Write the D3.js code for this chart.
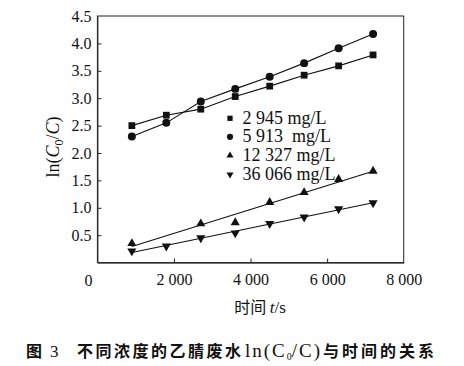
<!DOCTYPE html>
<html><head><meta charset="utf-8">
<script src="https://cdn.jsdelivr.net/npm/d3@7/dist/d3.min.js"></script>
<style>body{margin:0;background:#fff}svg{display:block}</style>
</head><body>
<svg id="c" width="464" height="366"></svg>
<script>
const times = [900, 1800, 2700, 3600, 4500, 5400, 6300, 7200];
const s2945 = [2.50, 2.69, 2.80, 3.03, 3.22, 3.42, 3.59, 3.79];
const s5913 = [2.30, 2.55, 2.94, 3.17, 3.39, 3.64, 3.91, 4.17];
const times12327 = [900, 2700, 3600, 4500, 5400, 6300, 7200];
const s12327 = [0.35, 0.71, 0.73, 1.10, 1.28, 1.52, 1.67];
const s36066 = [0.21, 0.30, 0.45, 0.54, 0.71, 0.83, 0.98, 1.09];
const legendLabels = ["2 945 mg/L", "5 913  mg/L", "12 327 mg/L", "36 066 mg/L"];
const xTicks = [2000, 4000, 6000, 8000];
const xTickLabels = ["2 000", "4 000", "6 000", "8 000"];
const yTicks = [0.5, 1.0, 1.5, 2.0, 2.5, 3.0, 3.5, 4.0, 4.5];

const SF = '"Liberation Serif"';
const CJ = '"Noto Sans CJK SC"';
const svg = d3.select("#c");
const L = 97.4, R = 403.7, T = 16, B = 262.6;
const x = d3.scaleLinear().domain([0, 8000]).range([L, R]);
const y = d3.scaleLinear().domain([0, 4.5]).range([B, T]);

svg.append("rect").attr("x", L).attr("y", T).attr("width", R - L).attr("height", B - T)
  .attr("fill", "none").attr("stroke", "#222").attr("stroke-width", 1);

const xAxis = d3.axisBottom(x).tickValues(xTicks).tickSizeInner(-4).tickSizeOuter(0)
  .tickPadding(10).tickFormat((d, i) => xTickLabels[i]);
const gx = svg.append("g").attr("transform", `translate(0,${B})`).call(xAxis).attr("font-family", SF);
gx.select(".domain").attr("stroke", "#222");
gx.selectAll(".tick line").attr("stroke", "#222");
gx.selectAll(".tick text").style("font-family", SF).attr("font-size", 16).attr("fill", "#111").attr("dy", "0.75em")
  .style("white-space", "pre");
gx.selectAll(".tick").filter(d => d === 8000).select("line").remove();

const yAxis = d3.axisLeft(y).tickValues(yTicks).tickSizeInner(-4).tickSizeOuter(0)
  .tickPadding(6).tickFormat(d3.format(".1f"));
const gy = svg.append("g").attr("transform", `translate(${L},0)`).call(yAxis).attr("font-family", SF);
gy.select(".domain").attr("stroke", "#222");
gy.selectAll(".tick line").attr("stroke", "#222");
gy.selectAll(".tick text").style("font-family", SF).attr("font-size", 16).attr("fill", "#111");
gy.selectAll(".tick").filter(d => d === 4.5).select("line").remove();

svg.append("text").style("font-family", SF).attr("x", x(0) - 9).attr("y", 286).attr("text-anchor", "middle")
  .attr("font-size", 16).attr("fill", "#111").text("0");

const yl = svg.append("text").style("font-family", SF).attr("transform", "translate(59,147) rotate(-90)")
  .attr("text-anchor", "middle").attr("font-size", 18).attr("fill", "#111");
yl.append("tspan").text("ln(");
yl.append("tspan").attr("font-style", "italic").text("C");
yl.append("tspan").attr("font-size", 12).attr("dy", 4).text("0");
yl.append("tspan").attr("dy", -4).text("/");
yl.append("tspan").attr("font-style", "italic").text("C");
yl.append("tspan").text(")");

const xl = svg.append("text").attr("x", 260).attr("y", 313).attr("text-anchor", "middle")
  .attr("font-size", 16).attr("fill", "#111");
xl.append("tspan").style("font-family", CJ).text("时间 ");
xl.append("tspan").style("font-family", SF).attr("font-style", "italic").attr("font-size", 17).text("t");
xl.append("tspan").style("font-family", SF).attr("font-size", 17).text("/s");

const cap = svg.append("text").attr("x", 26).attr("y", 357).attr("font-size", 16).attr("fill", "#111");
cap.append("tspan").style("font-family", CJ).attr("font-weight", 700).text("图");
cap.append("tspan").attr("x", 50).style("font-family", SF).attr("font-size", 17).text("3");
cap.append("tspan").attr("x", 77).style("font-family", CJ).attr("font-weight", 700)
  .attr("letter-spacing", 2.5).text("不同浓度的乙腈废水");
cap.append("tspan").attr("x", 245).style("font-family", SF).attr("font-size", 19).attr("letter-spacing", 2).text("ln(C");
cap.append("tspan").style("font-family", SF).attr("font-size", 10).attr("dy", 3).text("0");
cap.append("tspan").style("font-family", SF).attr("font-size", 19).attr("letter-spacing", 2).attr("dy", -3).text("/C)");
cap.append("tspan").attr("x", 323).style("font-family", CJ).attr("font-weight", 700)
  .attr("letter-spacing", 3).text("与时间的关系");

const series = [
  {t: times, v: s2945, sym: d3.symbolSquare, size: 46, rot: 0, fit: false},
  {t: times, v: s5913, sym: d3.symbolCircle, size: 50, rot: 0, fit: false},
  {t: times12327, v: s12327, sym: d3.symbolTriangle, size: 36, rot: 0, fit: true},
  {t: times, v: s36066, sym: d3.symbolTriangle, size: 36, rot: 180, fit: true}
];
const line = d3.line().x(d => x(d[0])).y(d => y(d[1]));
series.forEach(s => {
  const pts = s.t.map((t, i) => [t, s.v[i]]);
  let lp = pts;
  if (s.fit) {
    const mx = d3.mean(s.t), my = d3.mean(s.v);
    const b = d3.sum(pts, p => (p[0] - mx) * (p[1] - my)) / d3.sum(pts, p => (p[0] - mx) ** 2);
    const a = my - b * mx;
    const t0 = s.t[0], t1 = s.t[s.t.length - 1];
    lp = [[t0, a + b * t0], [t1, a + b * t1]];
  }
  svg.append("path").attr("d", line(lp)).attr("fill", "none").attr("stroke", "#111").attr("stroke-width", 1.1);
  svg.append("g").selectAll("path").data(pts).join("path")
    .attr("d", d3.symbol().type(s.sym).size(s.size))
    .attr("transform", d => `translate(${x(d[0])},${y(d[1])}) rotate(${s.rot})`)
    .attr("fill", "#111");
});

const legY = [118.3, 136.8, 155.5, 174.5];
series.forEach((s, i) => {
  svg.append("path").attr("d", d3.symbol().type(s.sym).size(s.size * 0.6)())
    .attr("transform", `translate(230,${legY[i]}) rotate(${s.rot})`).attr("fill", "#111");
  svg.append("text").style("font-family", SF).attr("x", 242.5).attr("y", legY[i] + 5.5)
    .attr("font-size", 18).attr("fill", "#111")
    .style("white-space", "pre").text(legendLabels[i]);
});
</script>
</body></html>
